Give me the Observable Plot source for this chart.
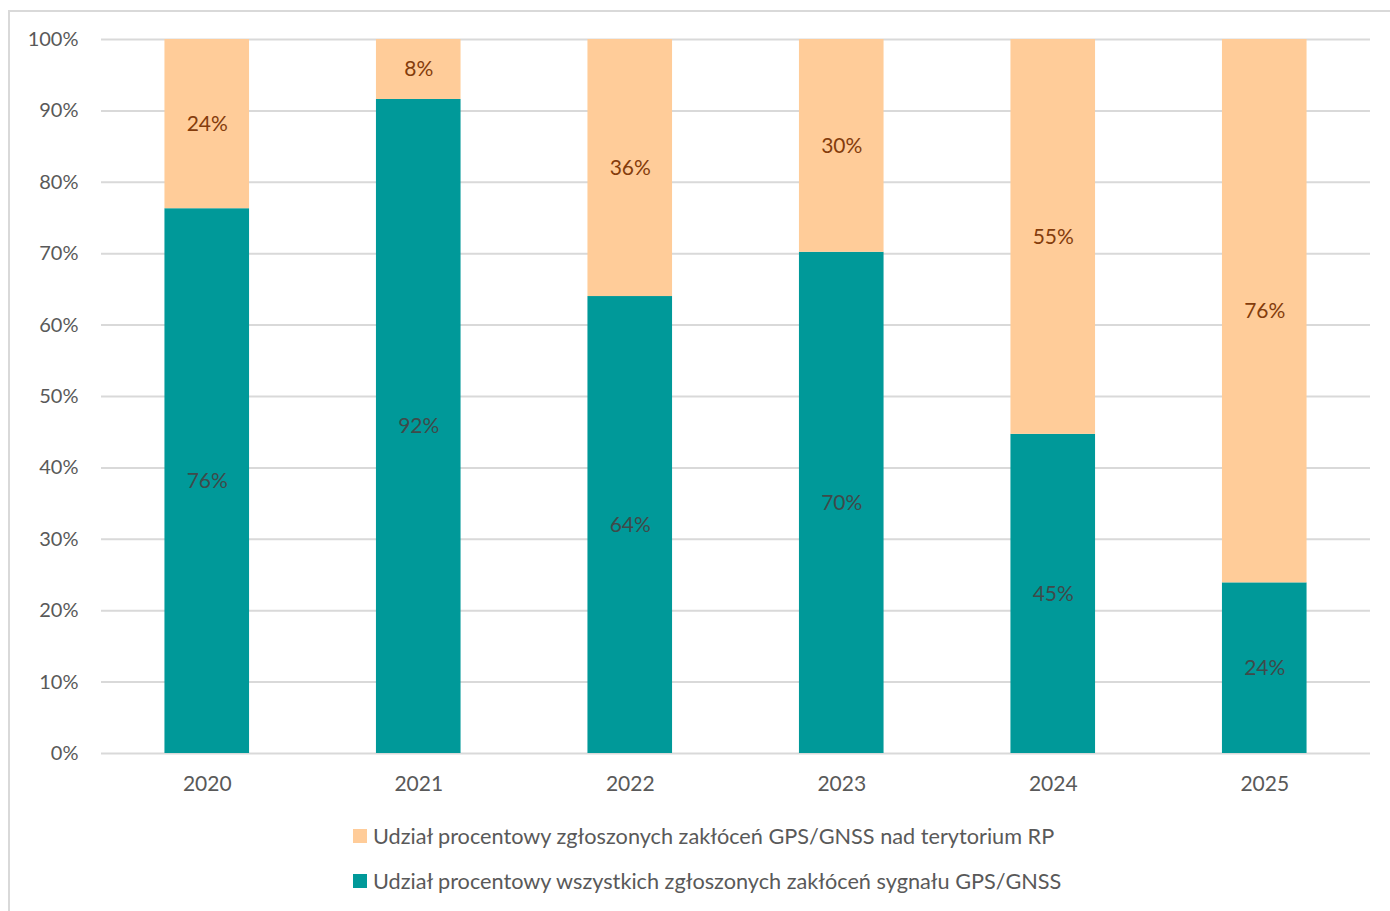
<!DOCTYPE html>
<html><head><meta charset="utf-8">
<script src="https://cdn.jsdelivr.net/npm/d3@7"></script>
<script src="https://cdn.jsdelivr.net/npm/@observablehq/plot@0.6"></script>
<style>
body{margin:0;background:#fff;font-family:Lato,"Open Sans",sans-serif;}
#frame{position:absolute;left:8px;top:10px;width:1382px;height:901px;border-left:2px solid #d9d9d9;border-top:2px solid #d9d9d9;box-sizing:border-box;}
#chart{position:absolute;left:0;top:0;}
.leg{position:absolute;left:353px;font-size:21.7px;color:#595959;display:flex;align-items:center;white-space:nowrap;}
.leg span.sw{display:inline-block;width:14px;height:14px;margin-right:6px;}
</style></head>
<body>
<div id="frame"></div>
<div id="chart"></div>
<div class="leg" style="top:823px"><span class="sw" style="background:#FFCC99"></span>Udział procentowy zgłoszonych zakłóceń GPS/GNSS nad terytorium RP</div>
<div class="leg" style="top:868px"><span class="sw" style="background:#009999"></span>Udział procentowy wszystkich zgłoszonych zakłóceń sygnału GPS/GNSS</div>
<script>
const years = ["2020","2021","2022","2023","2024","2025"];
const seriesNames = ["Udział procentowy wszystkich zgłoszonych zakłóceń sygnału GPS/GNSS","Udział procentowy zgłoszonych zakłóceń GPS/GNSS nad terytorium RP"];
const allValues = [76.3, 91.6, 64.0, 70.2, 44.7, 23.9];
const rpValues = [23.7, 8.4, 36.0, 29.8, 55.3, 76.1];
const allLabels = ["76%","92%","64%","70%","45%","24%"];
const rpLabels = ["24%","8%","36%","30%","55%","76%"];
const yTicks = [0,10,20,30,40,50,60,70,80,90,100];

const data = [];
years.forEach((y,i)=>{
  data.push({year:y, series:seriesNames[0], value:allValues[i], label:allLabels[i]});
  data.push({year:y, series:seriesNames[1], value:rpValues[i], label:rpLabels[i]});
});

const plot = Plot.plot({
  width:1390, height:811,
  marginLeft:101, marginRight:20, marginTop:39, marginBottom:58,
  style:{fontFamily:"Lato, 'Open Sans', sans-serif", fontSize:"20px", color:"#595959", background:"transparent"},
  x:{domain:years, paddingInner:0.6, paddingOuter:0.3, round:false, label:null},
  y:{domain:[0,100], label:null},
  color:{domain:seriesNames, range:["#009999","#FFCC99"]},
  marks:[
    Plot.ruleY(yTicks, {stroke:"#d9d9d9", strokeWidth:2}),
    Plot.barY(data, Plot.stackY({x:"year", y:"value", fill:"series", order:seriesNames})),
    Plot.text(data, Plot.stackY({x:"year", y:"value", z:"series", order:seriesNames, text:d=>d.series===seriesNames[0]?d.label:"", fill:"#3f4a4a", fontSize:21})),
    Plot.text(data, Plot.stackY({x:"year", y:"value", z:"series", order:seriesNames, text:d=>d.series===seriesNames[1]?d.label:"", fill:"#843C0C", fontSize:21})),
    Plot.axisY({ticks:yTicks, tickFormat:d=>d+"%", tickSize:0, tickPadding:23, fill:"#595959", fontSize:20}),
    Plot.axisX({tickSize:0, tickPadding:23, fill:"#595959", fontSize:21})
  ]
});
document.getElementById("chart").appendChild(plot);
</script>
</body></html>
